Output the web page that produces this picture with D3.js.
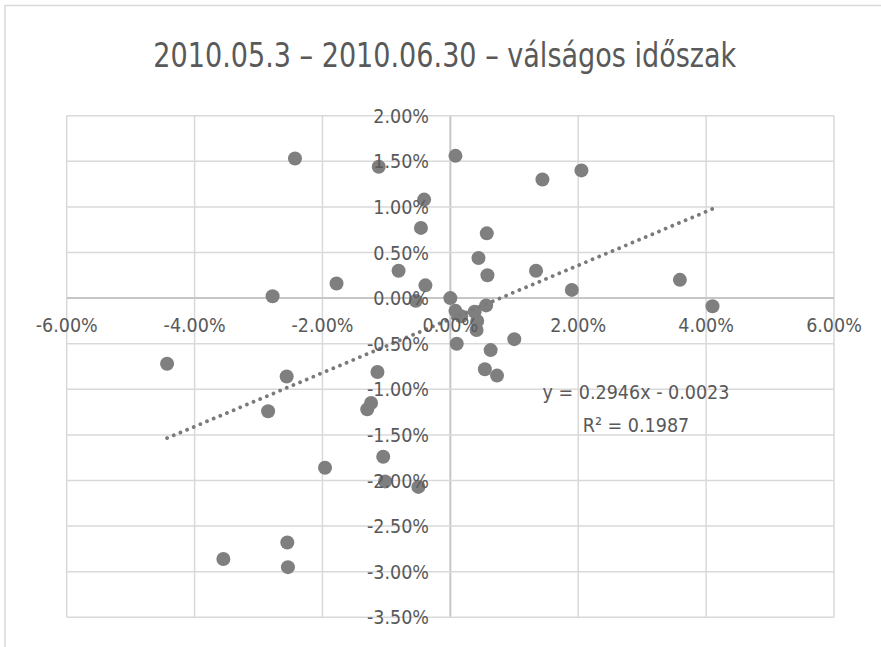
<!DOCTYPE html>
<html>
<head>
<meta charset="utf-8">
<script src="https://cdn.jsdelivr.net/npm/d3@7"></script>
<style>
  html, body { margin: 0; padding: 0; background: #ffffff; }
  svg { display: block; }
  text { font-family: "Liberation Sans Narrow", "DejaVu Sans Condensed", "Roboto", sans-serif; fill: #595959; }
</style>
</head>
<body>
<script>
// ---- data (values in percent) ----
const titleText = "2010.05.3 – 2010.06.30 – válságos időszak";
const xValues = [-4.43,-2.43,-2.78,-1.78,-1.12,-0.41,-0.46,-0.81,-0.39,-0.54,0.08,1.44,2.05,0.57,0.44,0.58,1.34,1.90,3.59,4.10,0.00,0.08,0.17,0.38,0.42,0.41,0.56,1.00,0.10,0.63,0.54,0.73,-2.56,-2.85,-1.14,-1.24,-1.30,-1.05,-1.96,-1.02,-0.50,-2.55,-3.55,-2.54];
const yValues = [-0.72,1.53,0.02,0.16,1.44,1.08,0.77,0.30,0.14,-0.03,1.56,1.30,1.40,0.71,0.44,0.25,0.30,0.09,0.20,-0.09,0.00,-0.14,-0.20,-0.15,-0.25,-0.35,-0.08,-0.45,-0.50,-0.57,-0.78,-0.85,-0.86,-1.24,-0.81,-1.15,-1.22,-1.74,-1.86,-2.01,-2.07,-2.68,-2.86,-2.95];
const xTicks = [-6,-4,-2,0,2,4,6];
const yTicks = [-3.5,-3,-2.5,-2,-1.5,-1,-0.5,0,0.5,1,1.5,2];
const trendSlope = 0.2946;
const trendIntercept = -0.0023;
const trendLabels = ["y = 0.2946x - 0.0023", "R² = 0.1987"];

const W = 881, H = 647;
const svg = d3.select("body").append("svg").attr("width", W).attr("height", H);
svg.append("rect").attr("width", W).attr("height", H).attr("fill", "#fff");
// chart frame
svg.append("rect").attr("x", 5).attr("y", 5.5).attr("width", W + 20).attr("height", H + 20)
  .attr("fill", "none").attr("stroke", "#d9d9d9").attr("stroke-width", 1.5);

const x = d3.scaleLinear().domain([-6, 6]).range([66.7, 834]);
const y = d3.scaleLinear().domain([-3.5, 2]).range([617.3, 115.7]);

// gridlines
const grid = svg.append("g");
grid.selectAll("line.v").data(xTicks).join("line")
  .attr("x1", d => x(d)).attr("x2", d => x(d))
  .attr("y1", y(2)).attr("y2", y(-3.5))
  .attr("stroke", d => d === 0 ? "#c6c6c6" : "#d9d9d9").attr("stroke-width", d => d === 0 ? 2 : 1.5);
grid.selectAll("line.h").data(yTicks).join("line")
  .attr("y1", d => y(d)).attr("y2", d => y(d))
  .attr("x1", x(-6)).attr("x2", x(6))
  .attr("stroke", d => d === 0 ? "#c6c6c6" : "#d9d9d9").attr("stroke-width", d => d === 0 ? 2 : 1.5);

// points
svg.append("g").selectAll("circle").data(xValues.map((v, i) => [v, yValues[i]])).join("circle")
  .attr("cx", d => x(d[0])).attr("cy", d => y(d[1])).attr("r", 7)
  .attr("fill", "#7f7f7f");

// trendline (from displayed equation, over data x-range)
const xmin = d3.min(xValues), xmax = d3.max(xValues);
const tl = [xmin, xmax].map(v => [v, (trendSlope * v / 100 + trendIntercept) * 100]);
svg.append("line")
  .attr("x1", x(tl[0][0])).attr("y1", y(tl[0][1]))
  .attr("x2", x(tl[1][0])).attr("y2", y(tl[1][1]))
  .attr("stroke", "#7a7a7a").attr("stroke-width", 3.8)
  .attr("stroke-linecap", "round").attr("stroke-dasharray", "0.01 7.2");

// tick labels
const fmt = d => d.toFixed(2) + "%";
svg.append("g").selectAll("text").data(yTicks).join("text")
  .attr("x", 429).attr("y", d => y(d)).attr("dy", "0.36em")
  .attr("text-anchor", "end").attr("font-size", 19.5)
  .text(fmt);
svg.append("g").selectAll("text").data(xTicks).join("text")
  .attr("x", d => x(d)).attr("y", 332.3)
  .attr("text-anchor", "middle").attr("font-size", 19.5)
  .text(fmt);

// trendline label
svg.append("g").selectAll("text").data(trendLabels).join("text")
  .attr("x", 636).attr("y", (d, i) => 399.3 + i * 32.4)
  .attr("text-anchor", "middle").attr("font-size", 19.5)
  .text(d => d);

// title
svg.append("text").attr("x", 153.3).attr("y", 66.7)
  .attr("font-size", 33.5).attr("textLength", 583).attr("lengthAdjust", "spacingAndGlyphs")
  .text(titleText);
</script>
</body>
</html>
